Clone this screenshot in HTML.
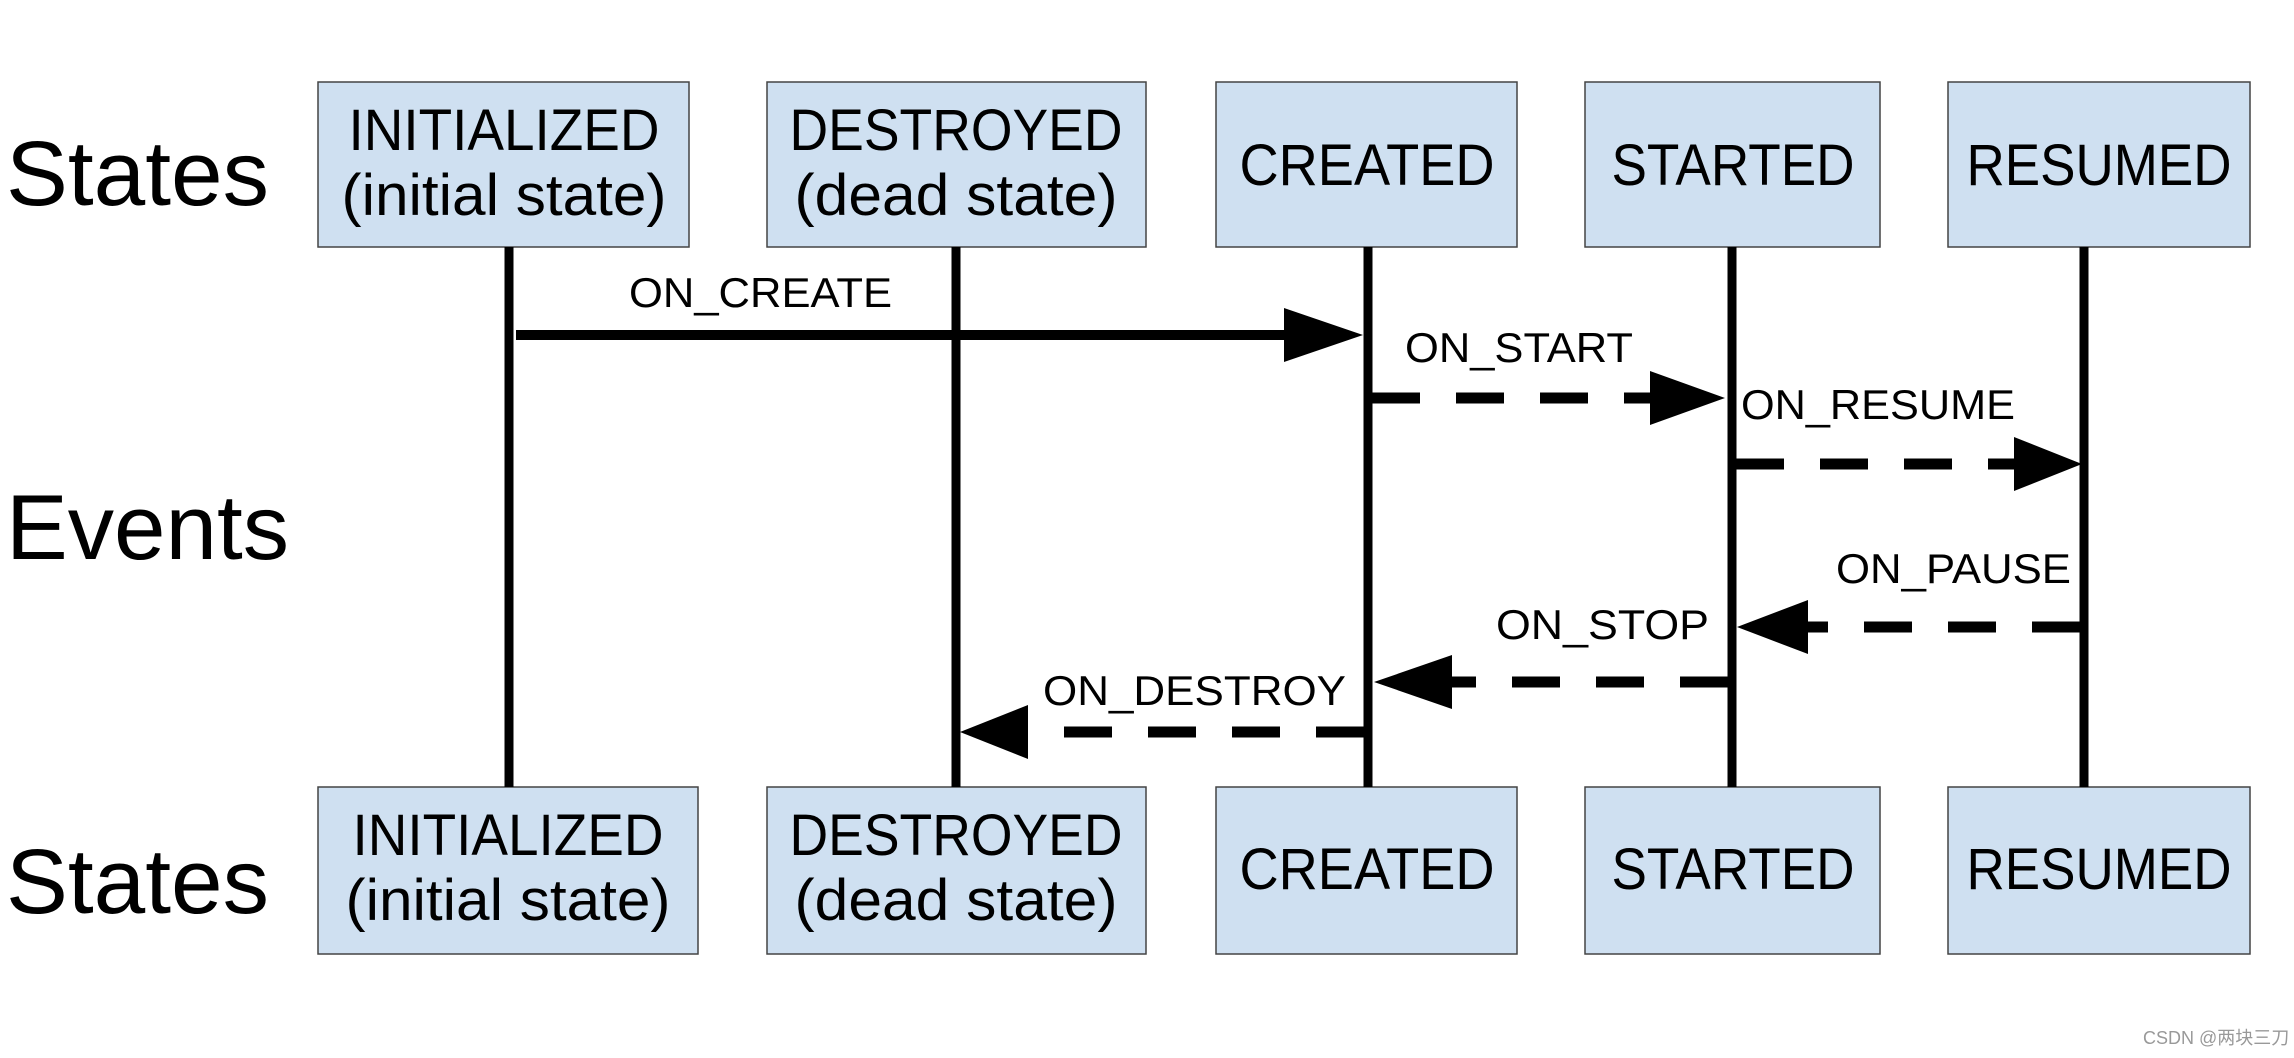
<!DOCTYPE html>
<html><head><meta charset="utf-8"><style>html,body{margin:0;padding:0;background:#fff}svg{display:block}</style></head>
<body>
<svg width="2294" height="1058" viewBox="0 0 2294 1058" xmlns="http://www.w3.org/2000/svg" font-family="Liberation Sans, sans-serif">
<g fill="#cfe0f1" stroke="#444" stroke-width="1.5">
<rect x="318" y="82" width="371" height="165"/>
<rect x="767" y="82" width="379" height="165"/>
<rect x="1216" y="82" width="301" height="165"/>
<rect x="1585" y="82" width="295" height="165"/>
<rect x="1948" y="82" width="302" height="165"/>
<rect x="318" y="787" width="380" height="167"/>
<rect x="767" y="787" width="379" height="167"/>
<rect x="1216" y="787" width="301" height="167"/>
<rect x="1585" y="787" width="295" height="167"/>
<rect x="1948" y="787" width="302" height="167"/>
</g>
<g stroke="#000" stroke-width="9">
<line x1="509" y1="247" x2="509" y2="787"/>
<line x1="956" y1="247" x2="956" y2="787"/>
<line x1="1368" y1="247" x2="1368" y2="787"/>
<line x1="1732" y1="247" x2="1732" y2="787"/>
<line x1="2084" y1="247" x2="2084" y2="787"/>
</g>
<g stroke="#000" stroke-width="10" fill="none">
<line x1="516" y1="335" x2="1290" y2="335"/>
</g>
<g stroke="#000" stroke-width="11" fill="none" stroke-dasharray="48 36">
<line x1="1372" y1="398" x2="1652" y2="398"/>
<line x1="1736" y1="464" x2="2016" y2="464"/>
<line x1="2080" y1="627" x2="1806" y2="627"/>
<line x1="1728" y1="682" x2="1450" y2="682"/>
<line x1="1364" y1="732" x2="1026" y2="732"/>
</g>
<g fill="#000">
<polygon points="1284,308 1363,335 1284,362"/>
<polygon points="1650,371 1725,398 1650,425"/>
<polygon points="2014,437 2082,464 2014,491"/>
<polygon points="1808,600 1737,627 1808,654"/>
<polygon points="1452,655 1374,682 1452,709"/>
<polygon points="1028,705 960,732 1028,759"/>
</g>
<g font-size="92" fill="#000">
<text x="6" y="205" textLength="263" lengthAdjust="spacingAndGlyphs">States</text>
<text x="6" y="559" textLength="283" lengthAdjust="spacingAndGlyphs">Events</text>
<text x="6" y="913" textLength="263" lengthAdjust="spacingAndGlyphs">States</text>
</g>
<g font-size="58" fill="#000" text-anchor="middle" lengthAdjust="spacingAndGlyphs">
<text x="504" y="150" textLength="311" lengthAdjust="spacingAndGlyphs">INITIALIZED</text>
<text x="504" y="215" textLength="325" lengthAdjust="spacingAndGlyphs">(initial state)</text>
<text x="956" y="150" textLength="333" lengthAdjust="spacingAndGlyphs">DESTROYED</text>
<text x="956" y="215" textLength="323" lengthAdjust="spacingAndGlyphs">(dead state)</text>
<text x="1367" y="185" textLength="255" lengthAdjust="spacingAndGlyphs">CREATED</text>
<text x="1733" y="185" textLength="243" lengthAdjust="spacingAndGlyphs">STARTED</text>
<text x="2099" y="185" textLength="265" lengthAdjust="spacingAndGlyphs">RESUMED</text>
<text x="508" y="855" textLength="311" lengthAdjust="spacingAndGlyphs">INITIALIZED</text>
<text x="508" y="920" textLength="325" lengthAdjust="spacingAndGlyphs">(initial state)</text>
<text x="956" y="855" textLength="333" lengthAdjust="spacingAndGlyphs">DESTROYED</text>
<text x="956" y="920" textLength="323" lengthAdjust="spacingAndGlyphs">(dead state)</text>
<text x="1367" y="889" textLength="255" lengthAdjust="spacingAndGlyphs">CREATED</text>
<text x="1733" y="889" textLength="243" lengthAdjust="spacingAndGlyphs">STARTED</text>
<text x="2099" y="889" textLength="265" lengthAdjust="spacingAndGlyphs">RESUMED</text>
</g>
<g font-size="42" fill="#000">
<text x="629" y="307" textLength="263" lengthAdjust="spacingAndGlyphs">ON_CREATE</text>
<text x="1405" y="362" textLength="228" lengthAdjust="spacingAndGlyphs">ON_START</text>
<text x="1741" y="419" textLength="274" lengthAdjust="spacingAndGlyphs">ON_RESUME</text>
<text x="1836" y="583" textLength="235" lengthAdjust="spacingAndGlyphs">ON_PAUSE</text>
<text x="1496" y="639" textLength="213" lengthAdjust="spacingAndGlyphs">ON_STOP</text>
<text x="1043" y="705" textLength="303" lengthAdjust="spacingAndGlyphs">ON_DESTROY</text>
</g>
<text x="2143" y="1044" font-size="18" fill="#999" font-family="Liberation Sans, Noto Sans CJK SC, sans-serif">CSDN @两块三刀</text>
</svg>
</body></html>
